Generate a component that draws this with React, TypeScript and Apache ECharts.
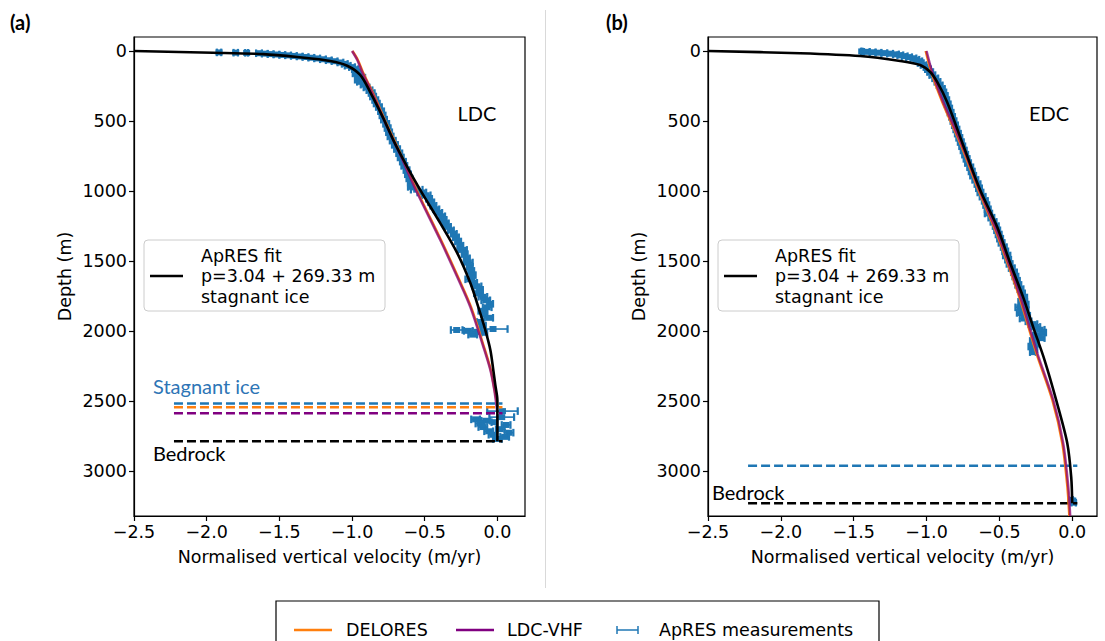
import React, { useEffect, useRef } from "react";
import * as echarts from "echarts";

// ---------- axis ticks ----------
const xTicks = [-2.5, -2.0, -1.5, -1.0, -0.5, 0.0];
const yTicks = [0, 500, 1000, 1500, 2000, 2500, 3000];

// ---------- panel (a) LDC ----------
const aFitVel = [-2.5, -1.956, -1.61, -1.377, -1.15, -1.033, -0.944, -0.875, -0.785, -0.716, -0.627, -0.53, -0.393, -0.276, -0.186, -0.131, -0.083, -0.048, -0.028, -0.014, 0, 0];
const aFitDepth = [0, 12, 22, 43, 71, 105, 171, 293, 479, 636, 814, 993, 1229, 1443, 1657, 1829, 1993, 2136, 2279, 2386, 2493, 2786];

const aVhfVel = [-1.0, -0.964, -0.93, -0.854, -0.764, -0.668, -0.551, -0.393, -0.276, -0.186, -0.096, -0.048, -0.021, -0.007, 0];
const aVhfDepth = [0, 64, 150, 314, 529, 743, 1014, 1350, 1614, 1829, 2114, 2279, 2421, 2529, 2586];

const aDelVel = [-0.997, -0.96, -0.926, -0.85, -0.759, -0.663, -0.546, -0.388, -0.271, -0.181, -0.092, -0.045, -0.019, -0.005, 0];
const aDelDepth = [0, 64, 150, 314, 529, 743, 1014, 1350, 1614, 1829, 2114, 2279, 2421, 2500, 2543];

const aMeasDepth = [10, 12, 13, 16, 19, 22, 25, 28, 31, 35, 39, 43, 48, 53, 59, 66, 73, 82, 92, 105, 115, 130, 145, 160, 175, 190, 205, 220, 240, 260, 280, 300, 325, 350, 375, 400, 430, 460, 490, 520, 550, 580, 610, 640, 670, 700, 730, 760, 790, 820, 850, 880, 910, 940, 970, 990, 1010, 1030, 1055, 1080, 1105, 1130, 1155, 1180, 1205, 1230, 1255, 1280, 1305, 1330, 1360, 1390, 1420, 1450, 1480, 1510, 1540, 1570, 1600, 1630, 1655, 1680, 1705, 1730, 1755, 1780, 1805, 1830, 1855, 1880, 1905, 1935, 1960, 1985, 1992, 1998, 2005, 2012, 2025, 2571, 2614, 2630, 2640, 2650, 2660, 2670, 2685, 2700, 2715, 2725, 2740, 2755, 2770];
const aMeasVel = [-1.915, -1.8, -1.725, -1.64, -1.6, -1.56, -1.52, -1.48, -1.44, -1.4, -1.36, -1.32, -1.28, -1.24, -1.2, -1.16, -1.12, -1.08, -1.05, -1.03, -1.0, -0.98, -0.96, -0.97, -0.95, -0.93, -0.96, -0.94, -0.92, -0.9, -0.88, -0.865, -0.855, -0.84, -0.83, -0.815, -0.8, -0.79, -0.78, -0.765, -0.755, -0.745, -0.735, -0.72, -0.705, -0.69, -0.675, -0.665, -0.65, -0.64, -0.625, -0.615, -0.605, -0.595, -0.585, -0.555, -0.52, -0.49, -0.47, -0.455, -0.44, -0.42, -0.4, -0.38, -0.37, -0.355, -0.34, -0.32, -0.3, -0.285, -0.27, -0.255, -0.24, -0.225, -0.21, -0.2, -0.19, -0.18, -0.17, -0.19, -0.16, -0.14, -0.12, -0.13, -0.1, -0.08, -0.05, -0.07, -0.1, -0.09, -0.06, -0.12, -0.1, -0.03, -0.28, -0.2, -0.14, -0.09, -0.17, 0.035, 0.03, -0.15, -0.08, -0.02, -0.12, 0.06, -0.1, 0.02, -0.06, 0.08, -0.03, 0.05, 0.0];
const aMeasErr = [0.015, 0.015, 0.01, 0.02, 0.02, 0.02, 0.02, 0.02, 0.02, 0.02, 0.02, 0.02, 0.02, 0.02, 0.02, 0.02, 0.02, 0.02, 0.02, 0.02, 0.02, 0.02, 0.02, 0.025, 0.02, 0.02, 0.02, 0.025, 0.02, 0.02, 0.02, 0.02, 0.02, 0.02, 0.02, 0.02, 0.02, 0.02, 0.02, 0.02, 0.02, 0.02, 0.02, 0.02, 0.02, 0.02, 0.02, 0.02, 0.02, 0.02, 0.02, 0.02, 0.02, 0.02, 0.03, 0.04, 0.03, 0.03, 0.02, 0.02, 0.02, 0.02, 0.02, 0.02, 0.02, 0.02, 0.02, 0.02, 0.02, 0.02, 0.02, 0.02, 0.03, 0.02, 0.02, 0.03, 0.02, 0.02, 0.02, 0.03, 0.02, 0.03, 0.02, 0.03, 0.03, 0.03, 0.02, 0.03, 0.03, 0.02, 0.03, 0.02, 0.02, 0.1, 0.04, 0.03, 0.03, 0.02, 0.03, 0.105, 0.085, 0.03, 0.03, 0.02, 0.03, 0.03, 0.03, 0.03, 0.03, 0.03, 0.03, 0.03, 0.03];

// dashed horizontal markers (stagnant ice: ApRES, DELORES, LDC-VHF; bedrock)
const aDashDepths = [2517, 2543, 2586, 2786];
const aDashColors = ["#1f77b4", "#ff7f0e", "#800080", "#000000"];
const dashStartVel = -2.225;
const dashEndVel = 0.035;

// ---------- panel (b) EDC ----------
const bFitVel = [-2.5, -1.868, -1.456, -1.181, -1.044, -0.975, -0.927, -0.859, -0.749, -0.632, -0.515, -0.426, -0.337, -0.268, -0.19, -0.11, -0.034, -0.007, 0.0];
const bFitDepth = [0, 16, 36, 71, 100, 150, 221, 364, 671, 993, 1257, 1514, 1757, 1971, 2207, 2493, 2800, 3043, 3229];

const bVhfVel = [-1.0, -0.955, -0.886, -0.749, -0.632, -0.522, -0.433, -0.35, -0.24, -0.13, -0.062, -0.027, -0.014];
const bVhfDepth = [0, 171, 364, 693, 1007, 1279, 1529, 1779, 2157, 2493, 2800, 3114, 3320];

const bDelVel = [-1.006, -0.961, -0.892, -0.755, -0.638, -0.528, -0.439, -0.356, -0.246, -0.136, -0.068, -0.033, -0.02];
const bDelDepth = [0, 171, 364, 693, 1007, 1279, 1529, 1779, 2157, 2493, 2800, 3114, 3320];

const bMeasDepth = [3, 6, 9, 12, 15, 19, 24, 30, 37, 44, 52, 62, 73, 86, 100, 115, 130, 150, 172, 195, 220, 245, 270, 295, 320, 350, 380, 410, 440, 470, 500, 530, 560, 590, 620, 650, 680, 710, 740, 770, 800, 830, 860, 890, 920, 950, 980, 1010, 1040, 1070, 1100, 1130, 1160, 1190, 1220, 1250, 1280, 1310, 1340, 1370, 1400, 1430, 1460, 1490, 1520, 1550, 1580, 1610, 1640, 1670, 1700, 1730, 1760, 1790, 1810, 1830, 1850, 1870, 1890, 1910, 1930, 1950, 1970, 1990, 2010, 2030, 2050, 2070, 2090, 2110, 2130, 2150, 3205, 3215, 3225];
const bMeasVel = [-1.445, -1.41, -1.37, -1.33, -1.29, -1.25, -1.21, -1.18, -1.15, -1.12, -1.09, -1.07, -1.05, -1.04, -1.02, -1.0, -0.99, -0.975, -0.96, -0.94, -0.925, -0.91, -0.895, -0.885, -0.875, -0.865, -0.855, -0.845, -0.835, -0.825, -0.815, -0.805, -0.795, -0.785, -0.775, -0.765, -0.755, -0.745, -0.735, -0.725, -0.715, -0.7, -0.69, -0.68, -0.665, -0.65, -0.64, -0.63, -0.615, -0.6, -0.59, -0.58, -0.575, -0.555, -0.54, -0.525, -0.515, -0.505, -0.495, -0.485, -0.47, -0.46, -0.45, -0.44, -0.43, -0.415, -0.4, -0.39, -0.38, -0.37, -0.355, -0.345, -0.33, -0.34, -0.33, -0.36, -0.33, -0.35, -0.31, -0.33, -0.3, -0.27, -0.25, -0.22, -0.2, -0.24, -0.21, -0.27, -0.25, -0.28, -0.26, -0.27, -0.01, 0.0, 0.01];
const bMeasErr = [0.005, 0.02, 0.02, 0.02, 0.02, 0.02, 0.02, 0.02, 0.02, 0.02, 0.02, 0.02, 0.02, 0.02, 0.02, 0.02, 0.02, 0.02, 0.02, 0.02, 0.02, 0.02, 0.02, 0.02, 0.02, 0.02, 0.02, 0.02, 0.02, 0.02, 0.02, 0.02, 0.02, 0.02, 0.02, 0.02, 0.02, 0.02, 0.02, 0.02, 0.02, 0.02, 0.02, 0.02, 0.02, 0.02, 0.02, 0.02, 0.02, 0.02, 0.02, 0.02, 0.025, 0.02, 0.02, 0.02, 0.02, 0.02, 0.02, 0.02, 0.02, 0.02, 0.025, 0.02, 0.02, 0.02, 0.02, 0.02, 0.02, 0.02, 0.02, 0.02, 0.02, 0.03, 0.03, 0.03, 0.03, 0.03, 0.02, 0.03, 0.02, 0.03, 0.03, 0.03, 0.02, 0.03, 0.02, 0.02, 0.02, 0.02, 0.02, 0.02, 0.015, 0.02, 0.015];

const bDashDepths = [2962, 3229];
const bDashColors = ["#1f77b4", "#000000"];

// ---------- styling constants ----------
const BLUE = "#1f77b4";
const ORANGE = "#ff7f0e";
const PURPLE = "#800080";
const MPL_FONT = "DejaVu Sans";
const ANN_FONT = "Lato";
const FS = 17.5;

const fmtX = (v: number) => (v < 0 ? "\u2212" : "") + Math.abs(v).toFixed(1);
const fmtY = (v: number) => String(Math.round(v));

function errRender(params: any, api: any) {
  const v = api.value(0);
  const d = api.value(1);
  const e = api.value(2);
  const c = api.coord([v, d]);
  const l = api.coord([v - e, d]);
  const r = api.coord([v + e, d]);
  const cap = 3.8;
  return {
    type: "group",
    children: [
      { type: "rect", shape: { x: c[0] - 3.5, y: c[1] - 3, width: 7, height: 6 }, style: { fill: BLUE } },
      { type: "line", shape: { x1: l[0], y1: l[1], x2: r[0], y2: r[1] }, style: { stroke: BLUE, lineWidth: 1.6 } },
      { type: "line", shape: { x1: l[0], y1: l[1] - cap, x2: l[0], y2: l[1] + cap }, style: { stroke: BLUE, lineWidth: 2.2 } },
      { type: "line", shape: { x1: r[0], y1: r[1] - cap, x2: r[0], y2: r[1] + cap }, style: { stroke: BLUE, lineWidth: 2.2 } },
    ],
  };
}

const pairs = (xs: number[], ys: number[]) => xs.map((x, i) => [x, ys[i]]);

function curve(idx: number, vel: number[], dep: number[], color: string, width: number, z: number, opacity = 1) {
  return {
    type: "line",
    xAxisIndex: idx,
    yAxisIndex: idx,
    data: pairs(vel, dep),
    symbol: "none",
    smooth: 0.3,
    clip: true,
    z,
    lineStyle: { color, width, opacity },
    silent: true,
  };
}

function dashes(idx: number, depths: number[], colors: string[]) {
  return depths.map((d, i) => ({
    type: "line",
    xAxisIndex: idx,
    yAxisIndex: idx,
    data: [
      [dashStartVel, d],
      [dashEndVel, d],
    ],
    symbol: "none",
    z: 3,
    lineStyle: { color: colors[i], width: 2.5, type: [9, 4] },
    silent: true,
  }));
}

function meas(idx: number, vel: number[], dep: number[], err: number[]) {
  return {
    type: "custom",
    xAxisIndex: idx,
    yAxisIndex: idx,
    renderItem: errRender,
    data: vel.map((v, i) => [v, dep[i], err[i]]),
    encode: { x: 0, y: 1 },
    clip: true,
    z: 2,
    silent: true,
  };
}

function xAxis(gridIndex: number, max: number) {
  return {
    type: "value",
    gridIndex,
    min: -2.5,
    max,
    axisLine: { show: true, onZero: false, lineStyle: { color: "#000", width: 1.2 } },
    axisTick: { show: true, customValues: xTicks, length: 5, lineStyle: { color: "#000", width: 1.2 } },
    axisLabel: { customValues: xTicks, formatter: fmtX, color: "#000", fontSize: FS, margin: 7, fontFamily: MPL_FONT },
    splitLine: { show: false },
    name: "Normalised vertical velocity (m/yr)",
    nameLocation: "middle",
    nameGap: 32,
    nameTextStyle: { fontSize: FS, color: "#000", fontFamily: MPL_FONT },
  };
}

function yAxis(gridIndex: number) {
  return {
    type: "value",
    gridIndex,
    inverse: true,
    min: -100,
    max: 3320,
    axisLine: { show: true, onZero: false, lineStyle: { color: "#000", width: 1.2 } },
    axisTick: { show: true, customValues: yTicks, length: 5, lineStyle: { color: "#000", width: 1.2 } },
    axisLabel: { customValues: yTicks, formatter: fmtY, color: "#000", fontSize: FS, margin: 7, fontFamily: MPL_FONT },
    splitLine: { show: false },
    name: "Depth (m)",
    nameLocation: "middle",
    nameGap: 60,
    nameRotate: 90,
    nameTextStyle: { fontSize: FS, color: "#000", fontFamily: MPL_FONT },
  };
}

function txt(x: number, y: number, text: string, font: string, fill = "#000", align = "left", lineHeight?: number) {
  return {
    type: "text",
    z: 50,
    style: {
      x,
      y,
      text,
      font,
      fill,
      align,
      textAlign: align,
      verticalAlign: "middle",
      textVerticalAlign: "middle",
      lineHeight,
    },
  };
}

function hline(x1: number, x2: number, y: number, stroke: string, lineWidth: number) {
  return { type: "line", z: 50, shape: { x1, y1: y, x2, y2: y }, style: { stroke, lineWidth } };
}

function fitLegend(x: number) {
  return [
    {
      type: "rect",
      z: 49,
      shape: { x, y: 240, width: 241, height: 71, r: 4 },
      style: { fill: "rgba(255,255,255,0.85)", stroke: "#cccccc", lineWidth: 1 },
    },
    hline(x + 6, x + 39, 276, "#000", 2.5),
    txt(x + 57, 276, "ApRES fit\np=3.04 + 269.33 m\nstagnant ice", `${FS}px ${MPL_FONT}`, "#000", "left", 20.5),
  ];
}

export default function App() {
  const ref = useRef<HTMLDivElement>(null);
  useEffect(() => {
    document.body.style.margin = "0";
    if (!ref.current) return;
    const chart = echarts.init(ref.current, undefined, { renderer: "svg" });
    const option: any = {
      animation: false,
      backgroundColor: "#ffffff",
      textStyle: { fontFamily: MPL_FONT },
      grid: [
        { left: 134, top: 37, width: 391, height: 479, show: true, borderColor: "#000", borderWidth: 1.2, outerBoundsMode: "none", containLabel: false },
        { left: 708, top: 37, width: 389, height: 479, show: true, borderColor: "#000", borderWidth: 1.2, outerBoundsMode: "none", containLabel: false },
      ],
      xAxis: [xAxis(0, 0.19), xAxis(1, 0.17)],
      yAxis: [yAxis(0), yAxis(1)],
      series: [
        meas(0, aMeasVel, aMeasDepth, aMeasErr),
        ...dashes(0, aDashDepths, aDashColors),
        curve(0, aDelVel, aDelDepth, ORANGE, 2.5, 4),
        curve(0, aVhfVel, aVhfDepth, PURPLE, 2.5, 5, 0.72),
        curve(0, aFitVel, aFitDepth, "#000", 2.6, 6),
        meas(1, bMeasVel, bMeasDepth, bMeasErr),
        ...dashes(1, bDashDepths, bDashColors),
        curve(1, bDelVel, bDelDepth, ORANGE, 2.5, 4),
        curve(1, bVhfVel, bVhfDepth, PURPLE, 2.5, 5, 0.72),
        curve(1, bFitVel, bFitDepth, "#000", 2.6, 6),
      ],
      graphic: {
        elements: [
          { type: "line", z: 1, shape: { x1: 545.5, y1: 10, x2: 545.5, y2: 588 }, style: { stroke: "#d9d9d9", lineWidth: 1 } },
          txt(10, 22, "(a)", `bold 20px ${ANN_FONT}`),
          txt(606, 22, "(b)", `bold 20px ${ANN_FONT}`),
          txt(477, 113, "LDC", `20px ${ANN_FONT}`, "#000", "center"),
          txt(1049, 113, "EDC", `20px ${ANN_FONT}`, "#000", "center"),
          txt(153, 386, "Stagnant ice", `20px ${ANN_FONT}`, "#2e75b6"),
          txt(153, 453, "Bedrock", `20px ${ANN_FONT}`),
          txt(712, 492, "Bedrock", `20px ${ANN_FONT}`),
          ...fitLegend(144),
          ...fitLegend(718),
          {
            type: "rect",
            z: 49,
            shape: { x: 276, y: 601, width: 603, height: 50 },
            style: { fill: "#fff", stroke: "#000", lineWidth: 1.2 },
          },
          hline(294, 332, 630, ORANGE, 2.5),
          txt(346, 630, "DELORES", `${FS}px ${MPL_FONT}`),
          hline(456, 494, 630, PURPLE, 2.5),
          txt(507, 630, "LDC-VHF", `${FS}px ${MPL_FONT}`),
          hline(617, 638, 630, BLUE, 1.5),
          { type: "line", z: 50, shape: { x1: 617, y1: 626, x2: 617, y2: 634 }, style: { stroke: BLUE, lineWidth: 1.5 } },
          { type: "line", z: 50, shape: { x1: 638, y1: 626, x2: 638, y2: 634 }, style: { stroke: BLUE, lineWidth: 1.5 } },
          txt(659, 630, "ApRES measurements", `${FS}px ${MPL_FONT}`),
        ],
      },
    };
    chart.setOption(option);
    return () => chart.dispose();
  }, []);
  return <div ref={ref} style={{ width: 1105, height: 641 }} />;
}
